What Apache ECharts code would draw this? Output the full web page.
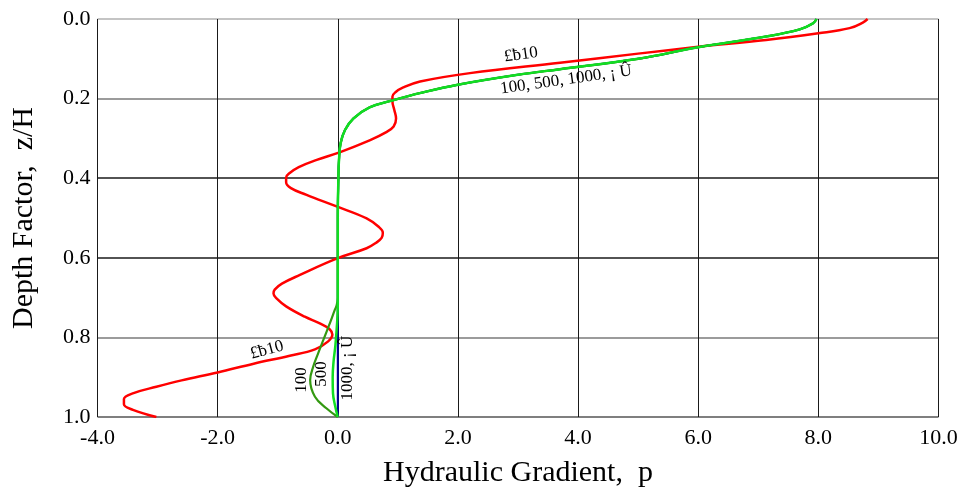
<!DOCTYPE html>
<html>
<head>
<meta charset="utf-8">
<script src="https://cdn.jsdelivr.net/npm/echarts@6/dist/echarts.min.js"></script>
<style>html,body{margin:0;padding:0;background:#fff}#c{width:957px;height:491px}</style>
</head>
<body>
<div id="c"></div>
<script>
// ---- data ----
var xTicks = [-4, -2, 0, 2, 4, 6, 8, 10];
var yTicks = [0, 0.2, 0.4, 0.6, 0.8, 1.0];

// t <= 10 curve (red): [p, z/H]
var curveT10 = [
  [8.82,0.0],[8.74,0.009],[8.52,0.023],[8.0,0.036],[7.13,0.053],[6.0,0.07],[5.0,0.087],
  [3.7,0.11],[2.2,0.136],[1.37,0.157],[1.09,0.172],[0.96,0.184],[0.91,0.195],[0.91,0.207],
  [0.94,0.228],[0.97,0.25],[0.93,0.27],[0.8,0.285],[0.53,0.305],[0.03,0.335],[-0.35,0.354],
  [-0.65,0.372],[-0.8,0.387],[-0.86,0.398],[-0.86,0.41],[-0.78,0.425],[-0.52,0.442],
  [-0.02,0.471],[0.48,0.501],[0.68,0.522],[0.75,0.537],[0.73,0.55],[0.64,0.562],[0.48,0.576],
  [0.0,0.601],[-0.63,0.643],[-0.93,0.665],[-1.05,0.68],[-1.07,0.69],[-1.02,0.702],
  [-0.86,0.722],[-0.55,0.748],[-0.3,0.765],[-0.14,0.779],[-0.09,0.793],[-0.16,0.81],
  [-0.38,0.83],[-0.8,0.846],[-1.4,0.866],[-2.0,0.888],[-2.6,0.908],[-3.02,0.924],
  [-3.4,0.94],[-3.56,0.955],[-3.56,0.968],[-3.41,0.982],[-3.02,1.0]
];
// common upper part for t = 100, 500, 1000, inf
var curveCommon = [
  [7.97,0],[7.91,0.011],[7.69,0.026],[7.13,0.044],[6.0,0.071],[5.0,0.1],[3.7,0.126],
  [3.0,0.14],[2.0,0.165],[1.4,0.185],[0.9,0.205],[0.53,0.222],[0.26,0.25],[0.12,0.279],
  [0.047,0.312],[0.02,0.354],[0.01,0.4],[0.0,0.5],[0.0,0.65],[0.0,0.7]
];
var tail100 = [[-0.02,0.72],[-0.05,0.731],[-0.12,0.76],[-0.24,0.806],[-0.34,0.845],
  [-0.41,0.874],[-0.46,0.907],[-0.38,0.949],[-0.19,0.978],[0,1.0]];
var tail500 = [[0,0.72],[-0.01,0.76],[-0.04,0.82],[-0.07,0.86],[-0.085,0.9],
  [-0.08,0.94],[-0.04,0.975],[0,1.0]];
var tail1000 = [[0,0.75],[0,1.0]];

var labels = [
  {text:'£ƀ10', at:[3.05,0.090], rot:8},
  {text:'100, 500, 1000, ¡ Û', at:[3.80,0.153], rot:8},
  {text:'£ƀ10', at:[-1.18,0.832], rot:15},
  {text:'100', at:[-0.61,0.907], rot:90},
  {text:'500', at:[-0.265,0.892], rot:90},
  {text:'1000, ¡ Û', at:[0.17,0.877], rot:90}
];

// ---- chart ----
var FONT = 'Liberation Serif';
var chart = echarts.init(document.getElementById('c'), null, {renderer:'canvas'});
function line(data, color, w, z, s){
  return {type:'line', data:data, showSymbol:false, smooth:s, z:z,
    lineStyle:{color:color, width:w}, silent:true};
}
chart.setOption({
  animation:false,
  backgroundColor:'#fff',
  grid:{left:97.5, right:18.5, top:19, bottom:74, containLabel:false, outerBoundsMode:'none'},
  xAxis:{type:'value', min:xTicks[0], max:xTicks[xTicks.length-1], interval:2,
    name:'Hydraulic Gradient,  p', nameLocation:'middle', nameGap:41,
    nameTextStyle:{fontFamily:FONT, fontSize:30, color:'#000'},
    axisLine:{show:false}, axisTick:{show:false},
    axisLabel:{fontFamily:FONT, fontSize:22, color:'#000', margin:10,
      formatter:function(v){return v.toFixed(1);}},
    splitLine:{show:true, lineStyle:{color:'#1a1a1a', width:1}}},
  yAxis:{type:'value', inverse:true, min:yTicks[0], max:yTicks[yTicks.length-1], interval:0.2,
    name:'Depth Factor,  z/H', nameLocation:'middle', nameGap:58,
    nameTextStyle:{fontFamily:FONT, fontSize:30, color:'#000'},
    axisLine:{show:false}, axisTick:{show:false},
    axisLabel:{fontFamily:FONT, fontSize:22, color:'#000', margin:7,
      formatter:function(v){return v.toFixed(1);}},
    splitLine:{show:true, lineStyle:{color:['#b0b0b0','#7a7a7a','#1a1a1a','#1a1a1a','#7a7a7a','#555'], width:1.5}}},
  series:[
    line(curveT10, '#ff0000', 2.5, 2, 0.4),
    line(curveCommon.concat(tail1000), '#000099', 2, 3, 0.4),
    line(curveCommon.concat(tail100), '#339911', 2.2, 4, 0.4),
    line(curveCommon.concat(tail500), '#11dd22', 2.5, 5, 0.4)
  ]
});
var g = labels.map(function(l){
  var p = chart.convertToPixel({gridIndex:0}, l.at);
  return {type:'text', x:p[0], y:p[1], rotation:l.rot*Math.PI/180, z:10,
    style:{text:l.text, fontFamily:FONT, fontSize:17, fill:'#000', align:'center', verticalAlign:'middle'}};
});
chart.setOption({graphic:g});
</script>
</body>
</html>
